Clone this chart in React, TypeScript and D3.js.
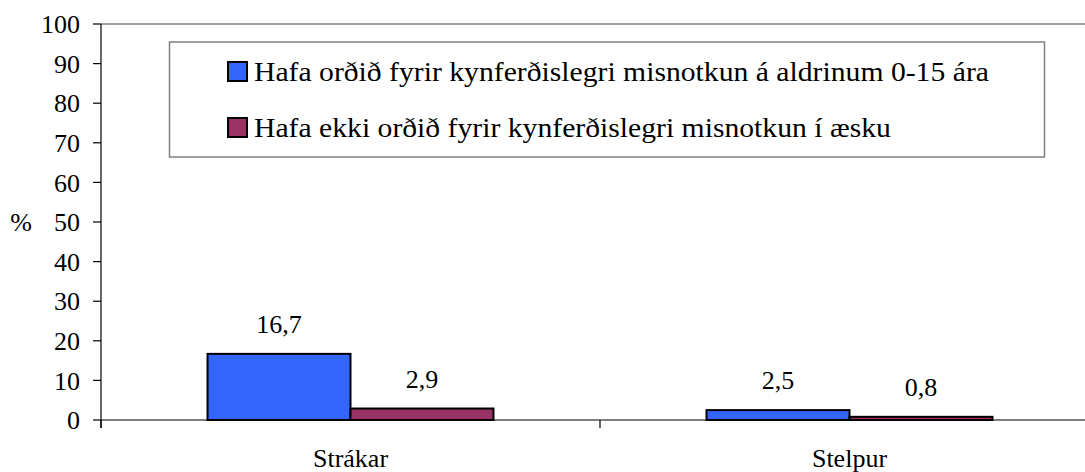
import React from 'react';
import * as d3 from 'd3';

const categories = ['Strákar', 'Stelpur'];
const seriesNames = [
    'Hafa orðið fyrir kynferðislegri misnotkun á aldrinum 0-15 ára',
    'Hafa ekki orðið fyrir kynferðislegri misnotkun í æsku',
];
const abusedValues = [16.7, 2.5];
const notAbusedValues = [2.9, 0.8];
const yTicks = [0, 10, 20, 30, 40, 50, 60, 70, 80, 90, 100];
const colors = ['#3366FF', '#993366'];

const width = 1085;
const height = 472;
const left = 101;
const right = 1099;
const top = 24;
const bottom = 420;
const serif = { fontFamily: "'Liberation Serif'" };

const Label = ({ x, y, anchor = 'middle', dy = undefined, size = 26, children }) => (
    <text x={x} y={y} dy={dy} fontSize={size} textAnchor={anchor} fill="#000" style={serif}>
        {children}
    </text>
);

const App = () => {
    const y = d3.scaleLinear().domain([0, 100]).range([bottom, top]);
    const x = d3.scaleBand().domain(categories).range([left, right]);
    const inner = d3.scaleBand()
        .domain(seriesNames)
        .range([0, x.bandwidth()])
        .paddingInner(0)
        .paddingOuter(0.745);

    const rows = categories.map((c, i) => ({
        cat: c,
        vals: [abusedValues[i], notAbusedValues[i]],
    }));
    const bounds = [left, ...categories.map(c => x(c) + x.bandwidth())];
    const fmt = (v) => d3.format('.1f')(v).replace('.', ',');

    return (
        <svg width={width} height={height} style={{ position: 'absolute', left: 0, top: 0 }}>
            <rect width={width} height={height} fill="#fff" />
            {/* plot area top border */}
            <line x1={left} x2={right} y1={top} y2={top} stroke="#808080" strokeWidth={1.5} />

            {/* y axis */}
            <line x1={left} x2={left} y1={top} y2={bottom + 8} stroke="#000" strokeWidth={1.2} />
            {yTicks.map(t => (
                <g key={t}>
                    <line x1={left - 8} x2={left} y1={y(t)} y2={y(t)} stroke="#000" strokeWidth={1.2} />
                    <Label x={80} y={y(t)} dy="0.35em" anchor="end">{t}</Label>
                </g>
            ))}
            <Label x={21} y={y(50)} dy="0.35em">%</Label>

            {/* bars */}
            {rows.map(r => (
                <g key={r.cat} transform={`translate(${x(r.cat)},0)`}>
                    {r.vals.map((v, i) => (
                        <g key={i}>
                            <rect
                                x={inner(seriesNames[i])}
                                y={y(v)}
                                width={inner.bandwidth()}
                                height={bottom - y(v)}
                                fill={colors[i]}
                                stroke="#000"
                                strokeWidth={2}
                            />
                            <Label x={inner(seriesNames[i]) + inner.bandwidth() / 2} y={y(v) - 21}>
                                {fmt(v)}
                            </Label>
                        </g>
                    ))}
                </g>
            ))}

            {/* x axis */}
            <line x1={left} x2={right} y1={bottom} y2={bottom} stroke="#000" strokeWidth={1.2} />
            {bounds.map(b => (
                <line key={b} x1={b} x2={b} y1={bottom} y2={bottom + 8} stroke="#000" strokeWidth={1.2} />
            ))}
            {categories.map(c => (
                <Label key={c} x={x(c) + x.bandwidth() / 2} y={467}>{c}</Label>
            ))}

            {/* legend - text in the original is a bit wider than it is tall */}
            <rect x={169.5} y={42} width={875} height={115} fill="#fff" stroke="#808080" strokeWidth={1.5} />
            {seriesNames.map((s, i) => (
                <g key={s} transform={`translate(228,${62 + i * 56})`}>
                    <rect width={19} height={19} fill={colors[i]} stroke="#000" strokeWidth={2} />
                    <g transform="translate(26,19) scale(1.12,1)">
                        <Label x={0} y={0} anchor="start" size={26.5}>{s}</Label>
                    </g>
                </g>
            ))}
        </svg>
    );
};

export default App;
